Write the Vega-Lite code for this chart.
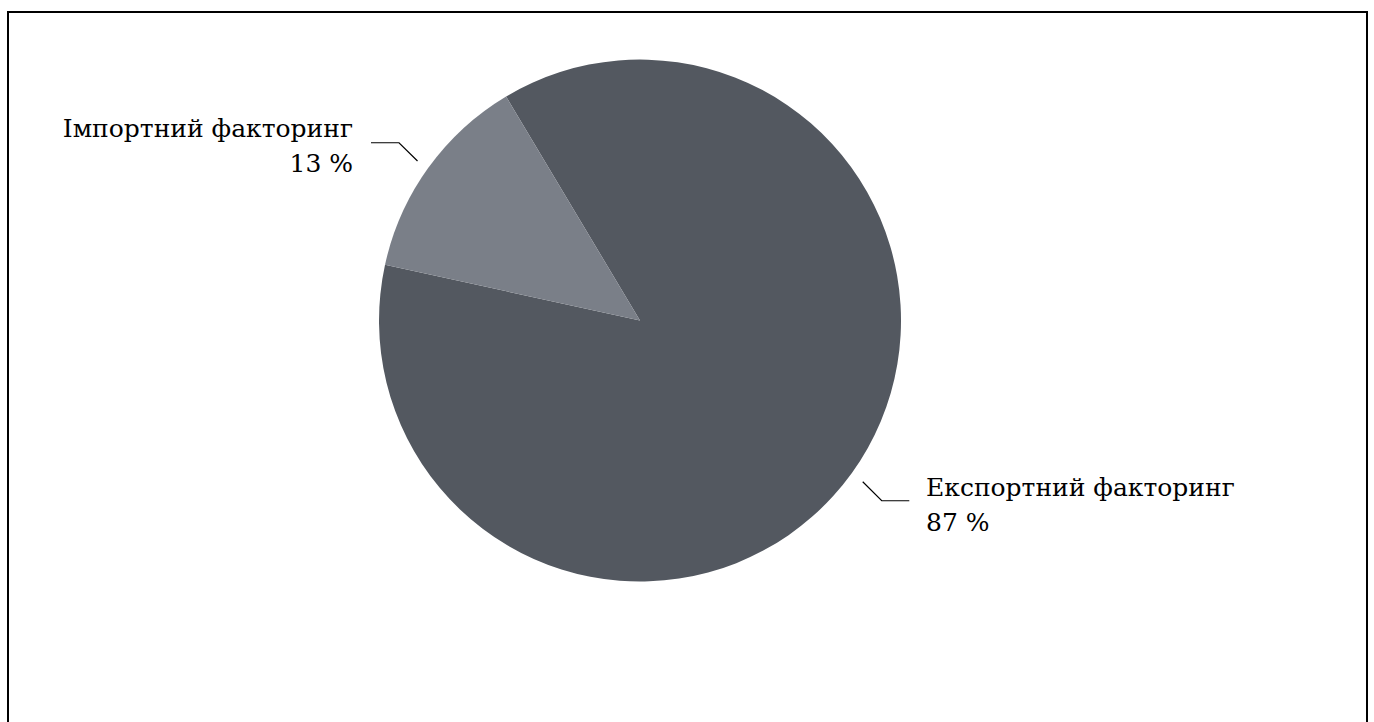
{
  "$schema": "https://vega.github.io/schema/vega-lite/v6.json",
  "autosize": {"type": "none"},
  "width": 1359,
  "height": 714,
  "padding": {"left": 8, "top": 12, "right": 7, "bottom": -4},
  "background": "#ffffff",
  "config": {
    "view": {"stroke": "#000000", "strokeWidth": 2},
    "text": {"font": "DejaVu Serif"}
  },
  "datasets": {
    "slices": [
      {"category": "Експортний факторинг", "share": 87},
      {"category": "Імпортний факторинг", "share": 13}
    ],
    "labels": [
      {"category": "Імпортний факторинг", "lx": -1.0996, "ly": 0.703, "label": "Імпортний факторинг\n13 %"},
      {"category": "Експортний факторинг", "lx": 1.0958, "ly": -0.6724, "label": "Експортний факторинг\n87 %"}
    ],
    "leaders": [
      {"category": "Імпортний факторинг", "pt": 1, "lx": -1.0307, "ly": 0.6812},
      {"category": "Імпортний факторинг", "pt": 2, "lx": -0.9234, "ly": 0.6812},
      {"category": "Імпортний факторинг", "pt": 3, "lx": -0.8525, "ly": 0.6111},
      {"category": "Експортний факторинг", "pt": 1, "lx": 0.8533, "ly": -0.6176},
      {"category": "Експортний факторинг", "pt": 2, "lx": 0.9261, "ly": -0.6904},
      {"category": "Експортний факторинг", "pt": 3, "lx": 1.0318, "ly": -0.6904}
    ]
  },
  "layer": [
    {
      "data": {"name": "slices"},
      "mark": {"type": "arc", "radius": 261, "stroke": null},
      "encoding": {
        "x": {"datum": 0, "type": "quantitative", "scale": {"domain": [-2.4215, 2.7854], "nice": false, "zero": false}, "axis": null},
        "y": {"datum": 0, "type": "quantitative", "scale": {"domain": [-1.5533, 1.182], "nice": false, "zero": false}, "axis": null},
        "theta": {"field": "share", "type": "quantitative", "stack": true, "scale": {"range": [-0.5388, 5.7444]}},
        "order": {"field": "share", "sort": "descending"},
        "color": {
          "field": "category",
          "type": "nominal",
          "scale": {"domain": ["Експортний факторинг", "Імпортний факторинг"], "range": ["#535860", "#7a7f88"]},
          "legend": null
        }
      }
    },
    {
      "data": {"name": "leaders"},
      "mark": {"type": "line", "color": "#000000", "strokeWidth": 1.2},
      "encoding": {
        "x": {"field": "lx", "type": "quantitative"},
        "y": {"field": "ly", "type": "quantitative"},
        "detail": {"field": "category"},
        "order": {"field": "pt"}
      }
    },
    {
      "data": {"name": "labels"},
      "transform": [{"filter": "datum.category == 'Імпортний факторинг'"}],
      "mark": {"type": "text", "align": "right", "baseline": "alphabetic", "fontSize": 25, "lineHeight": 35, "lineBreak": "\n", "color": "#000000", "font": "DejaVu Serif"},
      "encoding": {
        "x": {"field": "lx", "type": "quantitative"},
        "y": {"field": "ly", "type": "quantitative"},
        "text": {"field": "label"}
      }
    },
    {
      "data": {"name": "labels"},
      "transform": [{"filter": "datum.category == 'Експортний факторинг'"}],
      "mark": {"type": "text", "align": "left", "baseline": "alphabetic", "fontSize": 25, "lineHeight": 35, "lineBreak": "\n", "color": "#000000", "font": "DejaVu Serif"},
      "encoding": {
        "x": {"field": "lx", "type": "quantitative"},
        "y": {"field": "ly", "type": "quantitative"},
        "text": {"field": "label"}
      }
    }
  ]
}
